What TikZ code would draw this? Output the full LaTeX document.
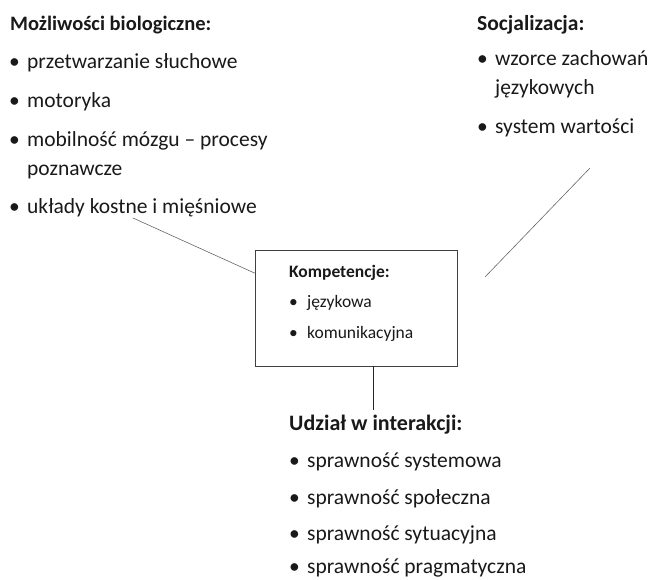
\documentclass[tikz,border=0pt]{standalone}
\usepackage{fontspec}
\setmainfont{Carlito}
\usepackage{tikz}

\newcommand{\pkt}[2][18pt]{\makebox[#1][l]{\textbullet}#2}

\begin{document}
\begin{tikzpicture}[
   x=1pt,y=-1pt,
   txt/.style={anchor=base west,inner sep=0pt,text=black!90,font=\fontsize{21.5}{25}\selectfont},
   head/.style={txt,font=\fontsize{#1}{25}\selectfont\bfseries},
   small/.style={anchor=base west,inner sep=0pt,text=black!90,font=\fontsize{17.5}{20}\selectfont},
   smallhead/.style={small,font=\fontsize{17.5}{20}\selectfont\bfseries},
   frame/.style={draw=black!75,semithick,minimum width=202pt,minimum height=116pt},
   link/.style={draw=black!60,semithick}]
\useasboundingbox (0,0) rectangle (655,579);

% Mozliwosci biologiczne
\node[head=20.5] (bio) at (10,30) {Możliwości biologiczne:};
\node[txt] (bio1) at (9,68) {\pkt{przetwarzanie słuchowe}};
\node[txt] (bio2) at (9,107) {\pkt{motoryka}};
\node[txt] (bio3) at (9,146) {\pkt{mobilność mózgu – procesy}};
\node[txt] (bio3b) at (27,175) {poznawcze};
\node[txt] (bio4) at (9,213) {\pkt{układy kostne i mięśniowe}};

% Socjalizacja
\node[head=21.5] (soc) at (477,30) {Socjalizacja:};
\node[txt] (soc1) at (477,65) {\pkt{wzorce zachowań}};
\node[txt] (soc1b) at (495,94) {językowych};
\node[txt] (soc2) at (477,133) {\pkt{system wartości}};

% Kompetencje
\node[frame] (box) at (356,308) {};
\node[smallhead] (komp) at (289,277) {Kompetencje:};
\node[small] (komp1) at (289,307) {\pkt{językowa}};
\node[small] (komp2) at (289,338) {\pkt{komunikacyjna}};

% Udzial w interakcji
\node[head=22] (udz) at (289,430) {Udział w interakcji:};
\node[txt] (udz1) at (289,467) {\pkt{sprawność systemowa}};
\node[txt] (udz2) at (289,504) {\pkt{sprawność społeczna}};
\node[txt] (udz3) at (289,540) {\pkt{sprawność sytuacyjna}};
\node[txt] (udz4) at (289,573) {\pkt{sprawność pragmatyczna}};

% polaczenia
\coordinate (bioEnd) at (133,218);
\coordinate (socA) at (590,168);
\coordinate (socB) at (485,277);
\coordinate (udzTop) at (373,410);
\draw[link] (bioEnd) -- (box.161);
\draw[link] (socA) -- (socB);
\draw[black!85,semithick] (udzTop |- box.south) -- (udzTop);
\end{tikzpicture}
\end{document}
